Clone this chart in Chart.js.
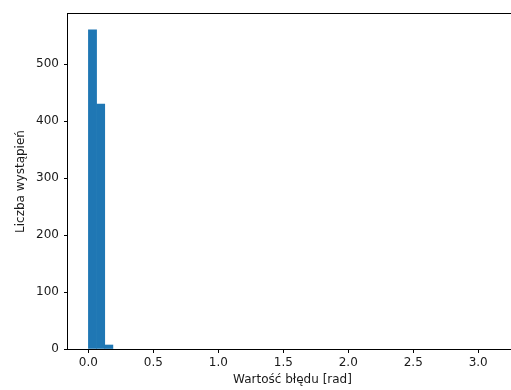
<!DOCTYPE html>
<html>
<head>
<meta charset="utf-8">
<script src="https://cdn.jsdelivr.net/npm/chart.js@4/dist/chart.umd.min.js"></script>
<style>
    html, body { margin: 0; padding: 0; background: #fff; overflow: hidden; }
    #wrap { width: 520px; height: 390px; }
</style>
</head>
<body>
<div id="wrap"><canvas id="histChart"></canvas></div>
<script>
// Histogram of error values, 50 bins over [0, pi]
const binCount = 50;
const binStart = 0;
const binEnd = Math.PI;
const counts = [
    560, 430, 7, 0, 0, 0, 0, 0, 0, 0,
    0, 0, 0, 0, 0, 0, 0, 0, 0, 0,
    0, 0, 0, 0, 0, 0, 0, 0, 0, 0,
    0, 0, 0, 0, 0, 0, 0, 0, 0, 0,
    0, 0, 0, 0, 0, 0, 0, 0, 0, 0
];
const xTicks = [0.0, 0.5, 1.0, 1.5, 2.0, 2.5, 3.0];
const yTicks = [0, 100, 200, 300, 400, 500];
const xTitle = 'Wartość błędu [rad]';
const yTitle = 'Liczba wystąpień';

const binWidth = (binEnd - binStart) / binCount;
// empty bins are left undrawn (null) so no hairline shows on the baseline
const points = counts.map((c, i) => ({ x: binStart + (i + 0.5) * binWidth, y: c > 0 ? c : null }));

const xMargin = (binEnd - binStart) * 0.05;
const yMax = Math.max(...counts) * 1.05;

const textColor = '#1a1a1a';
const tickFont = { family: 'DejaVu Sans', size: 12 };

// draw the full axes box like matplotlib spines
const frameBox = {
    id: 'frameBox',
    afterDraw(chart) {
        const { ctx, chartArea } = chart;
        ctx.save();
        ctx.strokeStyle = '#000';
        ctx.lineWidth = 1;
        ctx.strokeRect(Math.round(chartArea.left) - 0.5, Math.round(chartArea.top) - 0.5,
            Math.round(chartArea.right - chartArea.left) + 1, Math.round(chartArea.bottom - chartArea.top) + 1);
        ctx.restore();
    }
};

new Chart(document.getElementById('histChart'), {
    type: 'bar',
    data: {
        datasets: [{
            data: points,
            backgroundColor: '#1f77b4',
            borderWidth: 0,
            barPercentage: 1.0,
            categoryPercentage: 1.0
        }]
    },
    options: {
        responsive: true,
        maintainAspectRatio: false,
        animation: false,
        layout: { padding: { top: 14, right: 3, left: 0, bottom: 0 } },
        plugins: {
            legend: { display: false },
            tooltip: { enabled: false }
        },
        scales: {
            x: {
                type: 'linear',
                offset: false,
                min: binStart - xMargin,
                max: binEnd + xMargin,
                afterBuildTicks: (scale) => { scale.ticks = xTicks.map(v => ({ value: v })); },
                afterFit: (scale) => { scale.height = 41; },
                ticks: {
                    color: textColor,
                    font: tickFont,
                    padding: 3,
                    maxRotation: 0,
                    autoSkip: false,
                    callback: (v) => Number(v).toFixed(1)
                },
                grid: { offset: false, drawOnChartArea: false, drawTicks: true, tickLength: 4, color: '#000' },
                border: { display: false },
                title: {
                    display: true,
                    text: xTitle,
                    color: textColor,
                    font: tickFont,
                    padding: { top: 0, bottom: 3 }
                }
            },
            y: {
                min: 0,
                max: yMax,
                afterBuildTicks: (scale) => { scale.ticks = yTicks.map(v => ({ value: v })); },
                afterFit: (scale) => { scale.width = 68; },
                ticks: {
                    color: textColor,
                    font: tickFont,
                    padding: 5
                },
                grid: { drawOnChartArea: false, drawTicks: true, tickLength: 4, color: '#000' },
                border: { display: false },
                title: {
                    display: true,
                    text: yTitle,
                    color: textColor,
                    font: tickFont,
                    padding: { top: 14, bottom: 0 }
                }
            }
        }
    },
    plugins: [frameBox]
});
</script>
</body>
</html>
